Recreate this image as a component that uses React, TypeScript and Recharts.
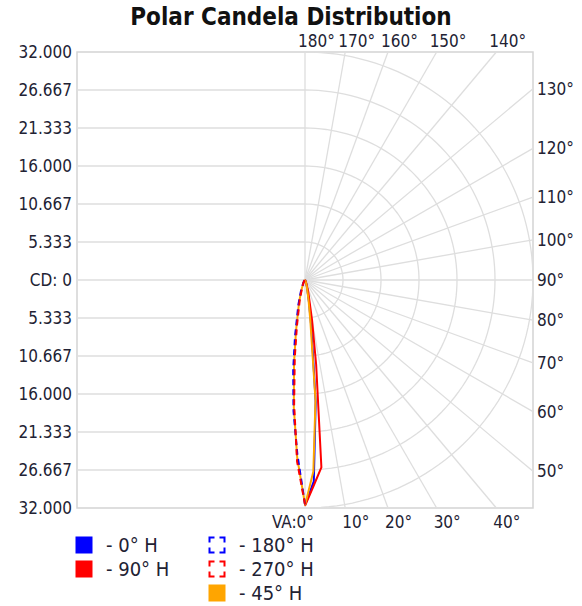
import React from "react";
import {
  ScatterChart,
  Scatter,
  XAxis,
  YAxis,
  ReferenceLine,
  ReferenceDot,
  ReferenceArea,
  Legend,
} from "recharts";

const FONT = "'DejaVu Sans Condensed', 'DejaVu Sans', sans-serif";
const TEXT = "#222233";
const GRID = "#dedede";

// vertical angles (deg from nadir) and candela values per plane
const vAngles = [0, 2.5, 5, 7.5, 10, 15, 20, 30, 45, 60, 90];
const cd0H = [31600, 28300, 17200, 7000, 3300, 1200, 500, 150, 50, 0, 0];
const cd90H = [31700, 28800, 26400, 12000, 5700, 1800, 700, 200, 60, 0, 0];
const cd45H = [31600, 26900, 16900, 5700, 2850, 1000, 400, 120, 40, 0, 0];
const cd180H = [31500, 24500, 18500, 12700, 8100, 3600, 1700, 500, 150, 50, 0];
const cd270H = [31500, 25500, 17500, 11000, 6500, 2800, 1200, 400, 100, 0, 0];
const cd225H = [31500, 25000, 18000, 11800, 7300, 3200, 1400, 450, 120, 0, 0];

// axis + grid
const cdTicks = [32000, 26667, 21333, 16000, 10667, 5333, 0, -5333, -10667, -16000, -21333, -26667, -32000];
const ringValues = [5333, 10667, 16000, 21333, 26667, 32000];
const gridAngles = [0, 10, 20, 30, 40, 50, 60, 70, 80, 90, 100, 110, 120, 130, 140, 150, 160, 170, 180];
const MAX = 32000;

const rad = (a: number) => (a * Math.PI) / 180;

const toPoints = (vals: number[], side: number) =>
  vAngles.map((a, i) => ({
    x: side * vals[i] * Math.sin(rad(a)),
    y: -vals[i] * Math.cos(rad(a)),
  }));

const series = [
  { name: "0° H", color: "#0000ff", dashed: false, data: toPoints(cd0H, 1) },
  { name: "90° H", color: "#ff0000", dashed: false, data: toPoints(cd90H, 1) },
  {
    name: "45° H",
    color: "#ffa500",
    dashed: false,
    data: [...toPoints(cd225H, -1).reverse(), ...toPoints(cd45H, 1)],
  },
  { name: "180° H", color: "#0000ff", dashed: true, data: toPoints(cd180H, -1) },
  { name: "270° H", color: "#ff0000", dashed: true, data: toPoints(cd270H, -1) },
];

const legendItems = [
  { name: "0° H", color: "#0000ff", dashed: false, col: 1, row: 1 },
  { name: "90° H", color: "#ff0000", dashed: false, col: 1, row: 2 },
  { name: "180° H", color: "#0000ff", dashed: true, col: 2, row: 1 },
  { name: "270° H", color: "#ff0000", dashed: true, col: 2, row: 2 },
  { name: "45° H", color: "#ffa500", dashed: false, col: 2, row: 3 },
];

const ringData = ringValues.map((r) => {
  const pts = [];
  for (let a = 0; a <= 180; a += 2) {
    pts.push({ x: r * Math.sin(rad(a)), y: -r * Math.cos(rad(a)) });
  }
  return pts;
});

// where each ray meets the frame
const rayEnd = (a: number) => {
  const s = Math.sin(rad(a));
  const c = -Math.cos(rad(a));
  const t = MAX / Math.max(Math.abs(s), Math.abs(c));
  let side = "right";
  if (a < 45) side = "bottom";
  if (a > 135) side = "top";
  return { x: s * t, y: c * t, side };
};

const NoShape = () => <g />;

const AngleLabel = (props: any) => {
  const { viewBox, angle, side } = props;
  const x = viewBox.x;
  const y = viewBox.y;
  const style = { fontFamily: FONT, fontSize: 17, fill: TEXT };
  if (side === "top") {
    return (
      <text x={x - 7} y={y - 5} {...style}>
        {angle}°
      </text>
    );
  }
  if (side === "right") {
    return (
      <text x={x + 4} y={y + 6} {...style}>
        {angle}°
      </text>
    );
  }
  if (angle === 0) {
    return (
      <text x={x + 9} y={y + 20} textAnchor="end" {...style}>
        VA:0°
      </text>
    );
  }
  return (
    <text x={x - 3} y={y + 20} {...style}>
      {angle}°
    </text>
  );
};

const LegendIcon = ({ color, dashed }: { color: string; dashed: boolean }) => (
  <svg width={18} height={18} style={{ display: "block" }}>
    {dashed ? (
      <rect
        x={1.5}
        y={1.5}
        width={15}
        height={15}
        fill="none"
        stroke={color}
        strokeWidth={2}
        strokeDasharray="5 5 10 5 10 5 10 5 5"
      />
    ) : (
      <rect x={0.5} y={0.5} width={17} height={17} fill={color} />
    )}
  </svg>
);

const LegendBox = () => (
  <div
    style={{
      display: "grid",
      gridTemplateColumns: "133px 150px",
      gridAutoRows: "24px",
      fontFamily: FONT,
      fontSize: 20,
      color: TEXT,
    }}
  >
    {legendItems.map((it) => (
      <div
        key={it.name}
        style={{
          gridColumn: it.col,
          gridRow: it.row,
          display: "flex",
          alignItems: "center",
          gap: 13,
          whiteSpace: "nowrap",
        }}
      >
        <LegendIcon color={it.color} dashed={it.dashed} />
        <span>- {it.name}</span>
      </div>
    ))}
  </div>
);

const fmtCd = (v: number) => (v === 0 ? "CD: 0" : (Math.abs(v) / 1000).toFixed(3));

export default function App() {
  return (
    <div style={{ position: "absolute", left: 0, top: 0, width: 582, height: 606, background: "#fff" }}>
      <div
        style={{
          position: "absolute",
          top: 3,
          left: 0,
          width: 582,
          textAlign: "center",
          fontFamily: FONT,
          fontWeight: "bold",
          fontSize: 24,
          color: "#111",
        }}
      >
        Polar Candela Distribution
      </div>
      <ScatterChart width={582} height={606} margin={{ top: 52, right: 49, bottom: 98, left: 0 }}>
        <XAxis type="number" dataKey="x" domain={[-MAX, MAX]} hide allowDataOverflow />
        <YAxis
          type="number"
          dataKey="y"
          domain={[-MAX, MAX]}
          ticks={cdTicks}
          interval={0}
          width={77}
          axisLine={false}
          tickLine={false}
          tickSize={0}
          tickMargin={5}
          tickFormatter={fmtCd}
          tick={{ fontSize: 17, fill: TEXT, fontFamily: FONT }}
          allowDataOverflow
        />

        {cdTicks
          .filter((v) => Math.abs(v) < MAX)
          .map((v) => (
            <ReferenceLine
              key={"h" + v}
              segment={[
                { x: -MAX, y: v },
                { x: 0, y: v },
              ]}
              stroke={GRID}
              strokeWidth={1.3}
              ifOverflow="visible"
            />
          ))}

        {gridAngles.map((a) => {
          const e = rayEnd(a);
          return (
            <ReferenceLine
              key={"r" + a}
              segment={[
                { x: 0, y: 0 },
                { x: e.x, y: e.y },
              ]}
              stroke={GRID}
              strokeWidth={1.3}
              ifOverflow="visible"
            />
          );
        })}

        {ringData.map((pts, i) => (
          <Scatter
            key={"ring" + i}
            data={pts}
            line={{ stroke: GRID, strokeWidth: 1.3 }}
            shape={NoShape}
            legendType="none"
            isAnimationActive={false}
          />
        ))}

        <ReferenceArea
          x1={-MAX}
          x2={MAX}
          y1={-MAX}
          y2={MAX}
          fill="none"
          stroke="#d4d4d4"
          strokeWidth={1.5}
          ifOverflow="visible"
        />

        {gridAngles.map((a) => {
          const e = rayEnd(a);
          return (
            <ReferenceDot
              key={"l" + a}
              x={e.x}
              y={e.y}
              r={0}
              fill="none"
              stroke="none"
              ifOverflow="visible"
              label={(p: any) => <AngleLabel {...p} angle={a} side={e.side} />}
            />
          );
        })}

        {series.map((s) => (
          <Scatter
            key={s.name}
            name={s.name}
            data={s.data}
            fill={s.color}
            line={{
              stroke: s.color,
              strokeWidth: 2,
              strokeDasharray: s.dashed ? "6 4" : undefined,
            }}
            shape={NoShape}
            isAnimationActive={false}
          />
        ))}

        <Legend
          layout="horizontal"
          verticalAlign="middle"
          align="center"
          wrapperStyle={{ left: 75, top: 533, width: 320 }}
          content={() => <LegendBox />}
        />
      </ScatterChart>
    </div>
  );
}
